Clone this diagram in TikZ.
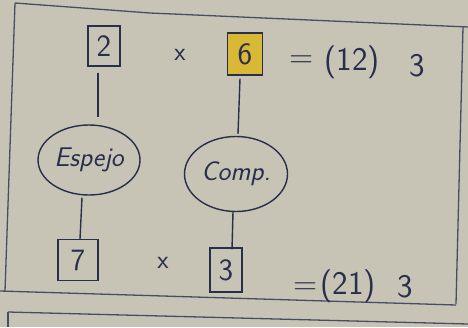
\documentclass[tikz,border=0pt]{standalone}
\usepackage{fontspec}
\usetikzlibrary{calc,shapes.geometric}
\definecolor{paper}{RGB}{200,196,181}
\definecolor{ink}{RGB}{40,46,76}
\definecolor{hl}{RGB}{216,184,52}
\begin{document}
\begin{tikzpicture}[x=1pt,y=-1pt,
  every node/.style={text=ink},
  numbox/.style={draw=ink,line width=1.4pt,inner sep=0pt,font=\sffamily\fontsize{31}{31}\selectfont},
  bubble/.style={draw=ink,line width=1.4pt,ellipse,inner sep=0pt,font=\sffamily\itshape\fontsize{27}{27}\selectfont},
  link/.style={draw=ink,line width=1.4pt},
  frame/.style={draw=ink!85,line width=1.3pt},
  txt/.style={font=\sffamily\fontsize{33}{33}\selectfont},
  times/.style={font=\sffamily\fontsize{26}{26}\selectfont}]
\fill[paper] (0,0) rectangle (468,327);
\useasboundingbox (0,0) rectangle (468,327);
% frame
\draw[frame] (15,3) -- (150,13) -- (468,27);
\draw[frame] (15,3) -- (5,291);
\draw[frame] (463,27) -- (456,304);
\draw[frame] (0,291) -- (456,305);
\draw[frame] (8,312) -- (468,324);
\draw[frame] (8,312) -- (8,327);
% top row
\node[numbox,minimum width=32pt,minimum height=40pt] (b2) at (104,46) {2};
\node[times] (m1) at (180,55) {x};
\node[numbox,fill=hl,minimum width=35pt,minimum height=42pt] (b6) at (245,54) {6};
\node[txt] (e1) at (302,62) {=};
\node[txt] (p1) at (352,62) {(12)};
\node[txt] (t1) at (417,66) {3};
% bubbles
\node[bubble,minimum width=102pt,minimum height=70pt] (esp) at (89,160) {Espejo};
\node[bubble,minimum width=103pt,minimum height=75pt] (comp) at (236,174) {Comp.};
% bottom row
\node[numbox,minimum width=40pt,minimum height=41pt] (b7) at (78,260) {7};
\node[times] (m2) at (163,263) {x};
\node[numbox,minimum width=32pt,minimum height=44pt] (b3) at (226,270) {3};
\node[txt] (e2) at (306,289) {=};
\node[txt] (p2) at (348,286) {(21)};
\node[txt] (t2) at (405,287) {3};
% connectors
\draw[link] ($(b2.south)+(-6,6)$) -- ($(esp.north)+(9,-7)$);
\draw[link] ($(esp.south)+(-7,2)$) -- ($(b7.north)+(2,0)$);
\draw[link] ($(b6.south)+(-5,3)$) -- ($(comp.north)+(2,-2)$);
\draw[link] ($(comp.south)+(-3,0)$) -- ($(b3.north)+(6,2)$);
\end{tikzpicture}
\end{document}
